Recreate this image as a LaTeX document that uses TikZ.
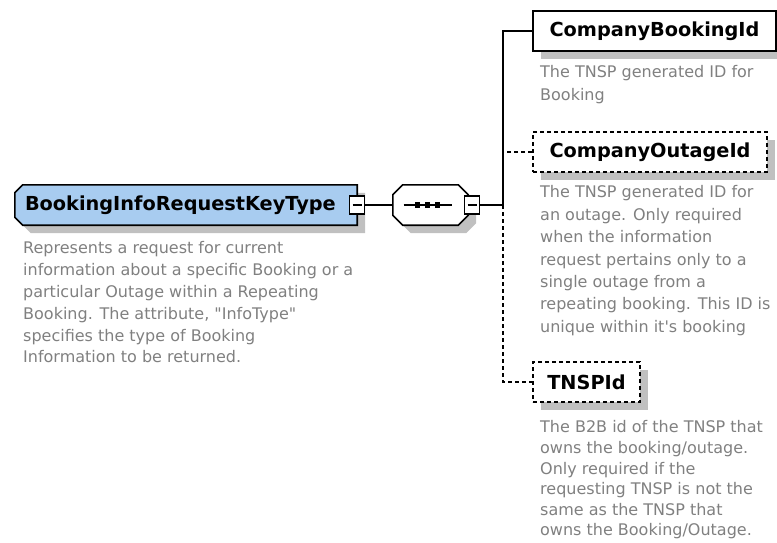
\documentclass[tikz,border=0pt]{standalone}
\usepackage{fontspec}
\setmainfont{DejaVu Sans}
\usetikzlibrary{shadows}
\definecolor{boxblue}{RGB}{168,204,240}
\definecolor{shadowgray}{RGB}{192,192,192}
\definecolor{descgray}{RGB}{128,128,128}
\tikzset{
  edgeline/.style={line width=1.6pt,black},
  dashline/.style={line width=1.6pt,black,dash pattern=on 4pt off 3pt},
  myshadow/.style={drop shadow={shadow xshift=8pt,shadow yshift=-8pt,opacity=1,fill=shadowgray,draw=none}},
  title/.style={font=\fontsize{19.3}{22}\selectfont\bfseries},
  desc/.style={anchor=north west,inner sep=0pt,align=left,text=descgray},
  plainnode/.style={rectangle,inner sep=0pt,minimum height=40pt},
  elembox/.style={rectangle,draw,line width=1.6pt,fill=white,myshadow,minimum height=40pt,inner sep=0pt,title},
  optbox/.style={elembox,dash pattern=on 4pt off 3pt},
  minusbox/.style={rectangle,draw,line width=1.4pt,fill=white,minimum width=15pt,minimum height=18pt,inner sep=0pt,
    path picture={\draw[line width=1.2pt] ([xshift=3pt]path picture bounding box.west) -- ([xshift=-3pt]path picture bounding box.east);}},
}
\newcommand\leftchamfer[1]{([xshift=8pt]#1.north west) -- (#1.north east) -- (#1.south east) -- ([xshift=8pt]#1.south west) -- ([yshift=8pt]#1.south west) -- ([yshift=-8pt]#1.north west) -- cycle}
\newcommand\octchamfer[1]{([xshift=10pt]#1.north west) -- ([xshift=-10pt]#1.north east) -- ([yshift=-10pt]#1.north east) -- ([yshift=10pt]#1.south east) -- ([xshift=-10pt]#1.south east) -- ([xshift=10pt]#1.south west) -- ([yshift=10pt]#1.south west) -- ([yshift=-10pt]#1.north west) -- cycle}
\begin{document}
\begin{tikzpicture}[x=1pt,y=-1pt]
\useasboundingbox (0,0) rectangle (777,542);
% main complex type
\node[plainnode,minimum width=342pt,title,text width=322pt,align=left,inner xsep=10pt] (main) at (186,205) {BookingInfoRequestKeyType};
\fill[shadowgray,transform canvas={shift={(8pt,-8pt)}}] \leftchamfer{main};
\draw[line width=1.6pt,fill=boxblue] \leftchamfer{main};
\node[plainnode,minimum width=342pt,title,text width=322pt,align=left,inner xsep=10pt] at (main.center) {BookingInfoRequestKeyType};
\node[minusbox] (mainminus) at (357,205) {};
\node[desc,font=\fontsize{16}{21.8}\selectfont] (maindesc) at (23,241.5) {Represents a request for current\\information about a specific Booking or a\\particular Outage within a Repeating\\Booking. The attribute, \textquotedbl InfoType\textquotedbl\\specifies the type of Booking\\Information to be returned.};
% sequence compositor
\node[plainnode,minimum width=75pt] (seq) at (430.5,205) {};
\fill[shadowgray,transform canvas={shift={(8pt,-8pt)}}] \octchamfer{seq};
\draw[line width=1.6pt,fill=white] \octchamfer{seq};
\node[minusbox] (seqminus) at (472,205) {};
\draw[line width=1.4pt] ([xshift=-27pt]seq.center) -- ([xshift=21pt]seq.center);
\foreach \dx in {-13,-3,7} {\fill ([xshift=\dx pt]seq.center) +(-2.8pt,-2.8pt) rectangle +(2.8pt,2.8pt);}
\coordinate (junction) at (503,205);
% child elements
\node[elembox,minimum width=243pt] (cbid) at (654.5,31) {CompanyBookingId};
\node[desc,font=\fontsize{16}{23}\selectfont] (cbiddesc) at (540,65.5) {The TNSP generated ID for\\Booking};
\node[optbox,minimum width=234pt] (coid) at (650,152) {CompanyOutageId};
\node[desc,font=\fontsize{16}{22.4}\selectfont] (coiddesc) at (540,185.5) {The TNSP generated ID for\\an outage. Only required\\when the information\\request pertains only to a\\single outage from a\\repeating booking. This ID is\\unique within it\textquotesingle s booking};
\node[optbox,minimum width=107pt] (tnsp) at (586.5,382) {TNSPId};
\node[desc,font=\fontsize{16}{20.6}\selectfont] (tnspdesc) at (540,420.5) {The B2B id of the TNSP that\\owns the booking/outage.\\Only required if the\\requesting TNSP is not the\\same as the TNSP that\\owns the Booking/Outage.};
% connectors
\draw[edgeline] (mainminus.east) -- (seq.west);
\draw[edgeline] (seqminus.east) -- (junction);
\draw[edgeline] (junction) |- (cbid.west);
\draw[dashline] (coid.west) -- (coid.west -| junction);
\draw[dashline] (junction) |- (tnsp.west);
\end{tikzpicture}
\end{document}
